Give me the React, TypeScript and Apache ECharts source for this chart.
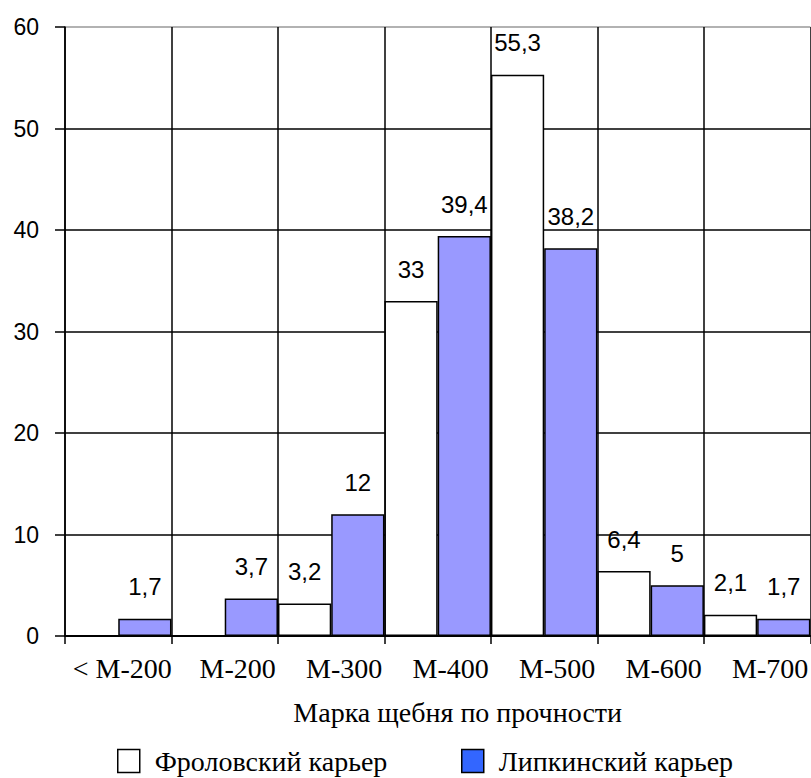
import React, { useEffect, useRef } from "react";
import * as echarts from "echarts";

const categories = ["< М-200", "М-200", "М-300", "М-400", "М-500", "М-600", "М-700"];
const frolovskiy = [0, 0, 3.2, 33, 55.3, 6.4, 2.1];
const lipkinskiy = [1.7, 3.7, 12, 39.4, 38.2, 5, 1.7];
const seriesNames = ["Фроловский карьер", "Липкинский карьер"];
const axisTitle = "Марка щебня по прочности";

const SERIF = "'Liberation Serif', 'Times New Roman', serif";
const SANS = "'Liberation Sans', Arial, sans-serif";

export default function App() {
  const ref = useRef<HTMLDivElement>(null);
  useEffect(() => {
    if (!ref.current) return;
    const chart = echarts.init(ref.current, null, { renderer: "svg" });
    const labelCfg = {
      show: true,
      position: "top",
      distance: 20,
      color: "#000",
      fontFamily: SANS,
      fontSize: 24,
      formatter: (p: any) => (p.value ? String(p.value).replace(".", ",") : ""),
    };
    const legendText = {
      fontFamily: SERIF,
      fontSize: 28,
      color: "#000",
      lineHeight: 24,
      padding: [0, 0, 0, 10],
    };
    chart.setOption({
      animation: false,
      backgroundColor: "#fff",
      grid: { left: 65, right: -3, top: 27, bottom: 142, containLabel: false },
      legend: [
        {
          left: 117,
          top: 747,
          padding: 0,
          itemWidth: 22,
          itemHeight: 23,
          icon: "rect",
          textStyle: legendText,
          data: [{ name: seriesNames[0], itemStyle: { color: "#fff", borderColor: "#000", borderWidth: 1.5 } }],
        },
        {
          left: 461,
          top: 747,
          padding: 0,
          itemWidth: 22,
          itemHeight: 23,
          icon: "rect",
          textStyle: legendText,
          data: [{ name: seriesNames[1], itemStyle: { color: "#3366ff", borderColor: "#000", borderWidth: 1.5 } }],
        },
      ],
      xAxis: {
        type: "category",
        data: categories,
        boundaryGap: true,
        name: axisTitle,
        nameLocation: "middle",
        nameGap: 62,
        nameTextStyle: { fontFamily: SERIF, fontSize: 28, color: "#000", padding: [0, 0, 0, 40] },
        axisLine: { show: true, lineStyle: { color: "#000", width: 2 } },
        axisTick: { show: true, alignWithLabel: false, interval: 0, length: 8, lineStyle: { color: "#000", width: 1.5 } },
        axisLabel: {
          interval: 0,
          margin: 18,
          fontFamily: SERIF,
          fontSize: 28,
          color: "#000",
          formatter: (v: string, i: number) => (i === 0 ? `{a|${v}}` : `{b|${v}}`),
          rich: {
            a: { fontFamily: SERIF, fontSize: 28, color: "#000", padding: [0, 0, 0, 8] },
            b: { fontFamily: SERIF, fontSize: 28, color: "#000", padding: [0, 0, 0, 26] },
          },
        },
        splitLine: { show: true, interval: 0, lineStyle: { color: "#000", width: 1.5 } },
      },
      yAxis: {
        type: "value",
        min: 0,
        max: 60,
        interval: 10,
        axisLine: { show: true, lineStyle: { color: "#000", width: 1.5 } },
        axisTick: { show: true, length: 10, lineStyle: { color: "#000", width: 1.5 } },
        axisLabel: { margin: 26, fontFamily: SANS, fontSize: 23, color: "#000" },
        splitLine: {
          show: true,
          lineStyle: { color: ["#000", "#000", "#000", "#000", "#000", "#000", "#999"], width: 1.5 },
        },
      },
      series: [
        {
          name: seriesNames[0],
          type: "bar",
          data: frolovskiy,
          barGap: "0%",
          barCategoryGap: "0%",
          itemStyle: { color: "#fff", borderColor: "#000", borderWidth: 1.5 },
          label: labelCfg,
        },
        {
          name: seriesNames[1],
          type: "bar",
          data: lipkinskiy,
          barGap: "0%",
          barCategoryGap: "0%",
          itemStyle: { color: "#9999ff", borderColor: "#000", borderWidth: 1.5 },
          label: labelCfg,
        },
      ],
    });
    return () => chart.dispose();
  }, []);
  return <div ref={ref} style={{ width: 811, height: 778, position: "absolute", left: 0, top: 0 }} />;
}
